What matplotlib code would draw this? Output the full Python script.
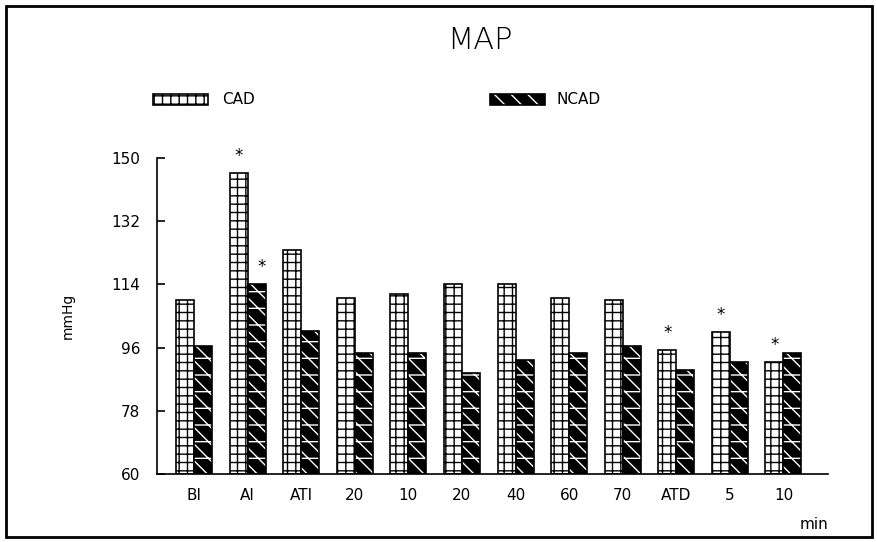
import numpy as np
import matplotlib.pyplot as plt
from matplotlib.patches import Rectangle

# Data
groups = ['BI', 'AI', 'ATI', '20', '10', '20', '40', '60', '70', 'ATD', '5', '10']
cad = [109.6, 145.7, 123.8, 110.1, 111.3, 114.1, 114.1, 110.1, 109.6, 95.3, 100.4, 91.9]
ncad = [96.5, 114.1, 100.7, 94.5, 94.5, 88.8, 92.5, 94.5, 96.5, 89.6, 91.9, 94.5]
# significance marks: (group index, series)
stars = [(1, 'cad'), (1, 'ncad'), (9, 'cad'), (10, 'cad'), (11, 'cad')]

plt.rcParams['hatch.linewidth'] = 1.0
plt.rcParams['font.family'] = 'DejaVu Sans'

fig = plt.figure(figsize=(8.78, 5.42), dpi=100)
ax = fig.add_axes([0.1788, 0.1255, 0.7642, 0.583])

x = np.arange(len(groups))
w = 0.336

# CAD: white bars with grid pattern
ax.bar(x - w / 2, np.array(cad) - 60, w, bottom=60, color='white',
       edgecolor='black', hatch='++', linewidth=1.2)
# NCAD: black bars with white diagonal pattern, then black outline
ax.bar(x + w / 2, np.array(ncad) - 60, w, bottom=60, color='black',
       edgecolor='white', hatch='\\\\-', linewidth=0)
ax.bar(x + w / 2, np.array(ncad) - 60, w, bottom=60, fill=False,
       edgecolor='black', linewidth=1.2)

for i, s in stars:
    if s == 'cad':
        ax.annotate('*', (x[i] - w / 2, cad[i]), xytext=(0, 6),
                    textcoords='offset points', ha='center', va='bottom', fontsize=12)
    else:
        ax.annotate('*', (x[i] + w / 2, ncad[i]), xytext=(4, 6),
                    textcoords='offset points', ha='center', va='bottom', fontsize=12)

ax.set_xlim(-0.69, 11.83)
ax.set_ylim(60, 150)
ax.set_yticks([60, 78, 96, 114, 132, 150])
ax.set_xticks(x)
ax.set_xticklabels(groups)
ax.tick_params(axis='y', direction='in', length=6, width=1.2, labelsize=11, pad=12)
ax.tick_params(axis='x', length=0, labelsize=11, pad=10)
for side in ['top', 'right']:
    ax.spines[side].set_visible(False)
for side in ['left', 'bottom']:
    ax.spines[side].set_linewidth(1.2)
ax.set_ylabel('mmHg', fontsize=10, labelpad=26)
ax.text(1.0, -0.16, 'min', transform=ax.transAxes, ha='right', va='center', fontsize=11)

# Title
fig.text(0.547, 0.925, 'MAP', ha='center', va='center', fontsize=22, fontweight='light')

# Legend swatches
fig.patches.append(Rectangle((153 / 878, 1 - 105 / 542), 55 / 878, 11 / 542,
                             transform=fig.transFigure, facecolor='white',
                             edgecolor='black', hatch='++', linewidth=1.2))
fig.text(222 / 878, 1 - 100 / 542, 'CAD', ha='left', va='center', fontsize=11)
fig.patches.append(Rectangle((490 / 878, 1 - 105 / 542), 55 / 878, 11 / 542,
                             transform=fig.transFigure, facecolor='black',
                             edgecolor='white', hatch='\\\\-', linewidth=0))
fig.patches.append(Rectangle((490 / 878, 1 - 105 / 542), 55 / 878, 11 / 542,
                             transform=fig.transFigure, fill=False,
                             edgecolor='black', linewidth=1.2))
fig.text(557 / 878, 1 - 100 / 542, 'NCAD', ha='left', va='center', fontsize=11)

# Frame around the figure
fig.patches.append(Rectangle((6 / 878, 1 - 537 / 542), 866 / 878, 531 / 542,
                             transform=fig.transFigure, fill=False,
                             edgecolor='black', linewidth=2))

fig.savefig('out.png', dpi=100)
